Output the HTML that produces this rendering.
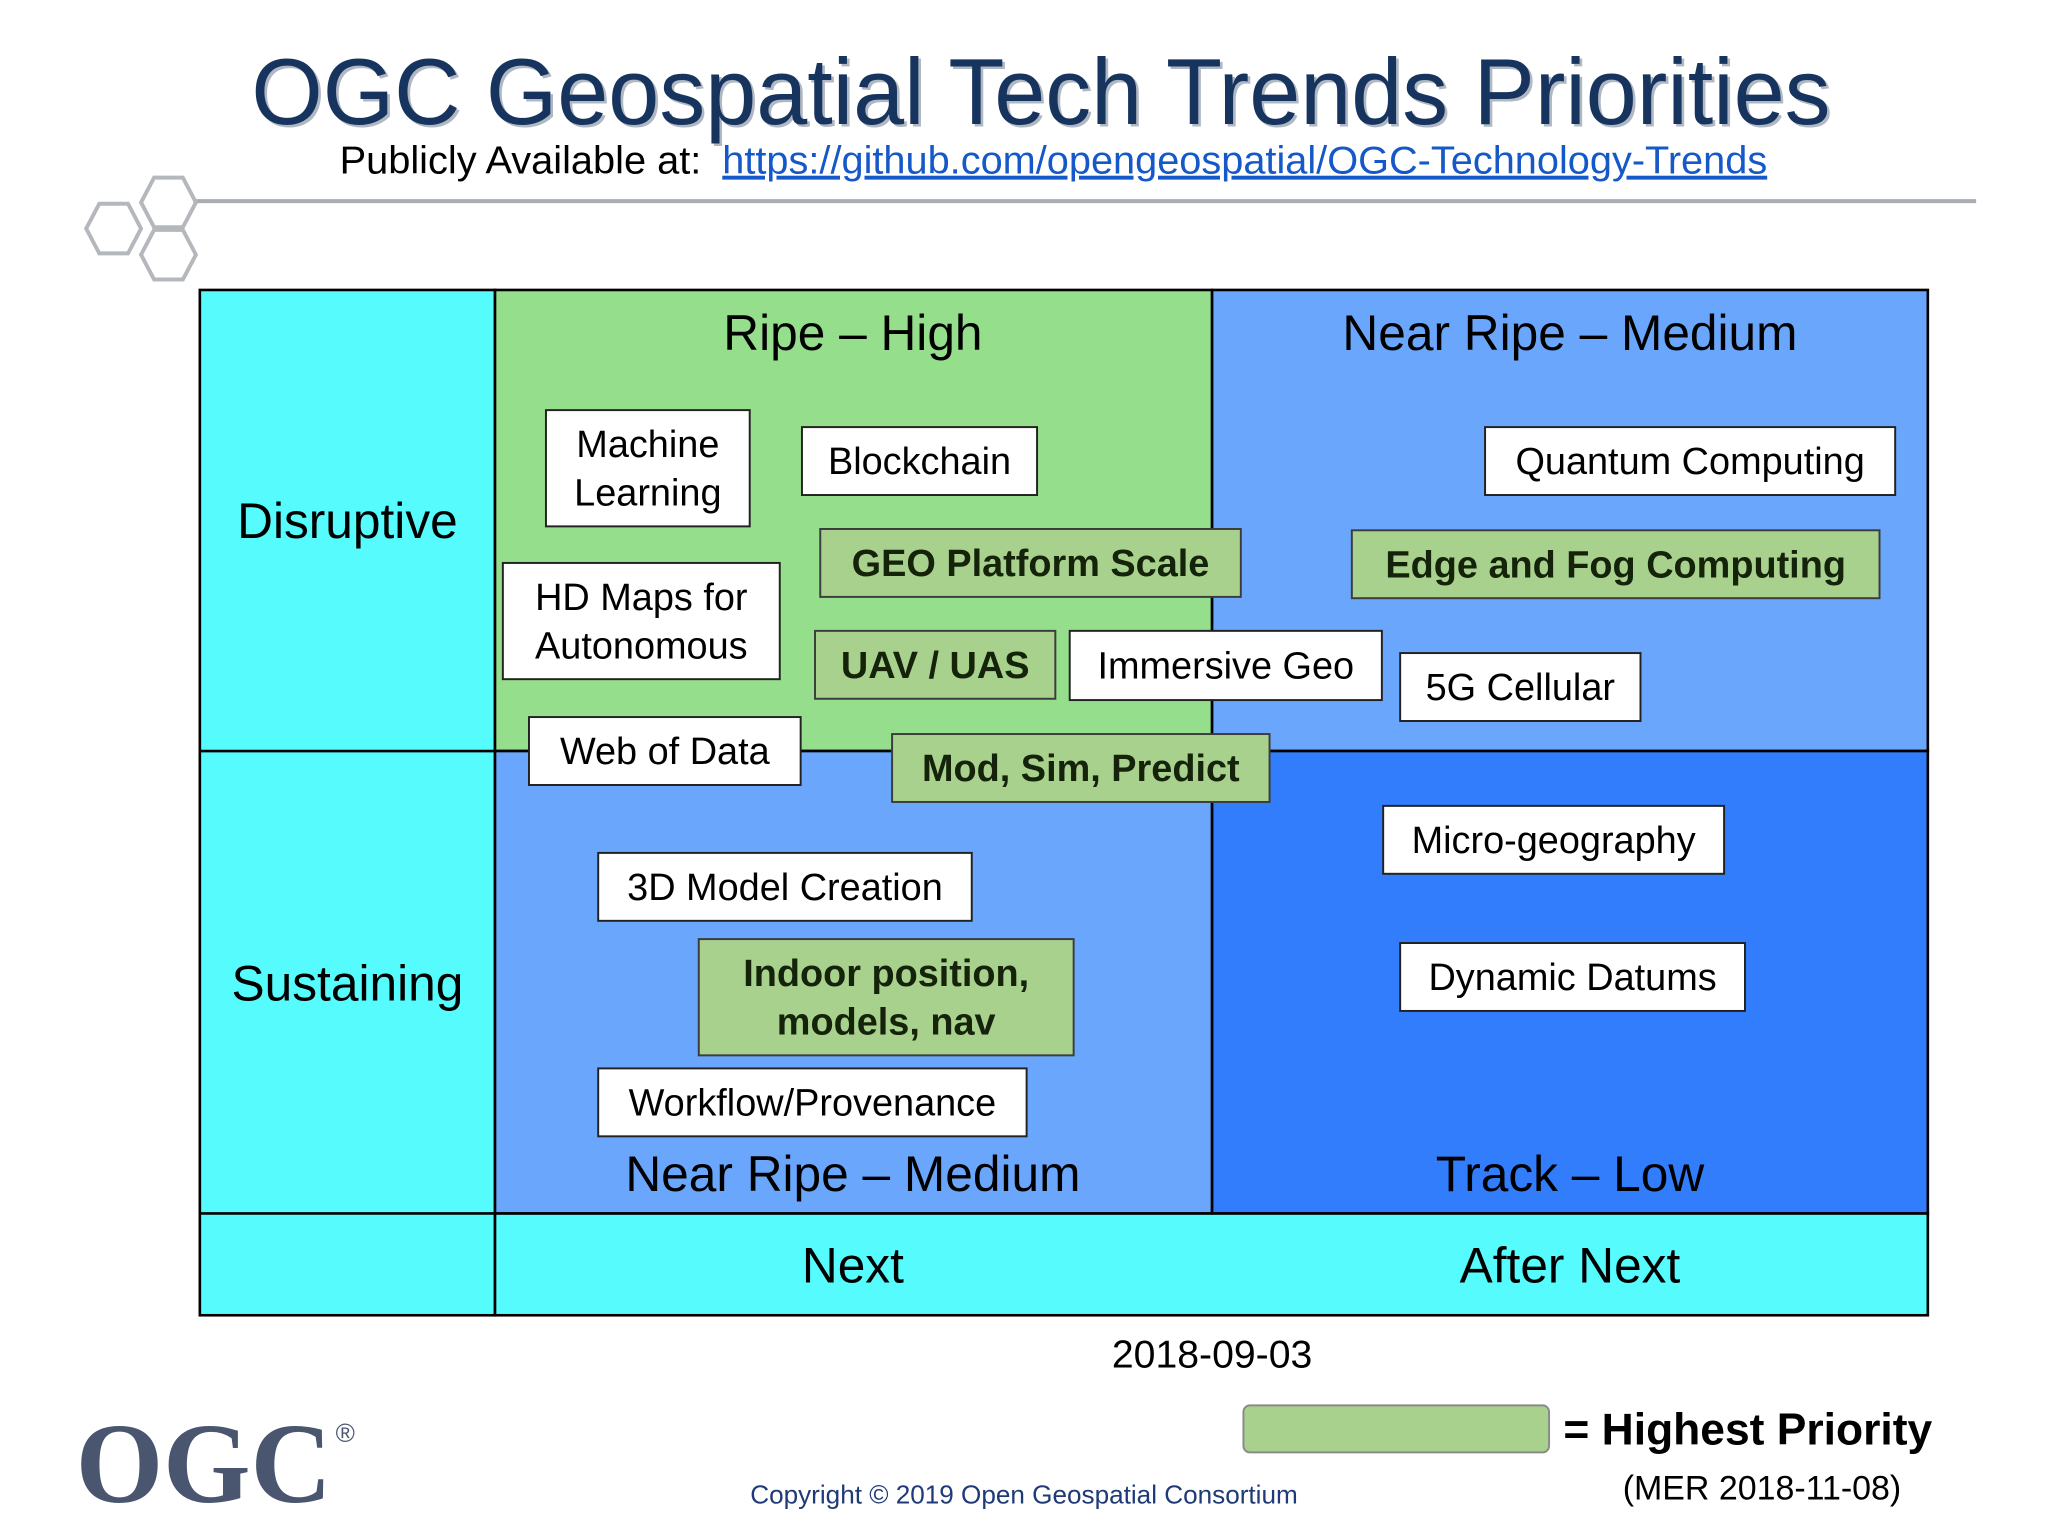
<!DOCTYPE html>
<html><head><meta charset="utf-8"><style>
html,body{margin:0;padding:0;background:#fff;}
svg{display:block;font-family:"Liberation Sans",sans-serif;}
</style></head><body>
<svg width="2048" height="1536" viewBox="0 0 1568 1176" xmlns="http://www.w3.org/2000/svg">
<rect width="1568" height="1176" fill="#fff"/>
<g>
<text x="799" y="97" text-anchor="middle" font-size="72" fill="#b0b8c4" textLength="1209" lengthAdjust="spacingAndGlyphs">OGC Geospatial Tech Trends Priorities</text>
<text x="797" y="95" text-anchor="middle" font-size="72" fill="#16345e" textLength="1209" lengthAdjust="spacingAndGlyphs">OGC Geospatial Tech Trends Priorities</text>
</g>
<text x="260" y="133" font-size="30" fill="#000" textLength="277" lengthAdjust="spacingAndGlyphs">Publicly Available at:</text>
<text x="553" y="133" font-size="30" fill="#1558c8" text-decoration="underline" textLength="800" lengthAdjust="spacingAndGlyphs">https://github.com/opengeospatial/OGC-Technology-Trends</text>
<line x1="148" y1="154" x2="1513" y2="154" stroke="#a8adb3" stroke-width="3"/>
<g fill="none" stroke="#b4b8bd" stroke-width="3">
<polygon points="108,155 118,136 140,136 150,155 140,174 118,174"/>
<polygon points="66,175 76,156 98,156 108,175 98,194 76,194"/>
<polygon points="108,195 118,176 140,176 150,195 140,214 118,214"/>
</g>
<g stroke="#000" stroke-width="2">
<rect x="153" y="222" width="226" height="785" fill="#56fbfd"/>
<rect x="379" y="929" width="1097" height="78" fill="#56fbfd"/>
<rect x="379" y="222" width="549" height="353" fill="#95df8c"/>
<rect x="928" y="222" width="548" height="353" fill="#6aa7fc"/>
<rect x="379" y="575" width="549" height="354" fill="#6aa7fc"/>
<rect x="928" y="575" width="548" height="354" fill="#317dfb"/>
<line x1="153" y1="575" x2="379" y2="575"/>
<line x1="153" y1="929" x2="379" y2="929"/>
</g>
<g font-size="38" fill="#000" text-anchor="middle">
<text x="653" y="268">Ripe – High</text>
<text x="1202" y="268">Near Ripe – Medium</text>
<text x="266" y="412">Disruptive</text>
<text x="266" y="766">Sustaining</text>
<text x="653" y="912">Near Ripe – Medium</text>
<text x="1202" y="912">Track – Low</text>
<text x="653" y="982">Next</text>
<text x="1202" y="982">After Next</text>
</g>
<g id="boxes" font-size="29"></g>
<text x="928" y="1047" text-anchor="middle" font-size="30">2018-09-03</text>
<rect x="952" y="1076" width="234" height="36" rx="5" fill="#a9d18e" stroke="#8a8a8a" stroke-width="1.5"/>
<text x="1197" y="1106" font-size="34" font-weight="bold">= Highest Priority</text>
<text x="1349" y="1148" text-anchor="middle" font-size="26">(MER 2018-11-08)</text>
<text x="58" y="1150" font-family="Liberation Serif, serif" font-weight="bold" font-size="88" fill="#4a5670" textLength="196" lengthAdjust="spacingAndGlyphs">OGC</text>
<text x="257" y="1104" font-size="20" fill="#4a5670">®</text>
<text x="784" y="1151" text-anchor="middle" font-size="20" fill="#1f3a78">Copyright © 2019 Open Geospatial Consortium</text>
</svg>
<script>
const boxNames = ["machine-learning","blockchain","geo-platform-scale","hd-maps","uav-uas","immersive-geo","web-of-data","mod-sim-predict","quantum-computing","edge-fog-computing","5g-cellular","micro-geography","3d-model-creation","indoor-position","dynamic-datums","workflow-provenance"];
const boxLabels = [["Machine","Learning"],["Blockchain"],["GEO Platform Scale"],["HD Maps for","Autonomous"],["UAV / UAS"],["Immersive Geo"],["Web of Data"],["Mod, Sim, Predict"],["Quantum Computing"],["Edge and Fog Computing"],["5G Cellular"],["Micro-geography"],["3D Model Creation"],["Indoor position,","models, nav"],["Dynamic Datums"],["Workflow/Provenance"]];
const boxPriority = [0,0,1,0,1,0,0,1,0,1,0,0,0,1,0,0];
const boxRects = [[418,314,574,403],[614,327,794,379],[628,405,950,457],[385,431,597,520],[624,483,808,535],[819,483,1058,536],[405,549,613,601],[683,562,972,614],[1137,327,1451,379],[1035,406,1439,458],[1072,500,1256,552],[1059,617,1320,669],[458,653,744,705],[535,719,822,808],[1072,722,1336,774],[458,818,786,870]];
const NS = "http://www.w3.org/2000/svg";
const g = document.getElementById("boxes");
boxNames.forEach((n,i)=>{
  const [x1,y1,x2,y2] = boxRects[i];
  const hi = boxPriority[i]===1;
  const grp = document.createElementNS(NS,"g");
  
  
  const r = document.createElementNS(NS,"rect");
  r.setAttribute("x",x1);r.setAttribute("y",y1);
  r.setAttribute("width",x2-x1);r.setAttribute("height",y2-y1);
  r.setAttribute("fill",hi?"#a9d18e":"#fff");
  r.setAttribute("stroke",hi?"#3c3c3c":"#222");r.setAttribute("stroke-width","1.5");
  grp.appendChild(r);
  const lines = boxLabels[i];
  const cx=(x1+x2)/2, cy=(y1+y2)/2;
  lines.forEach((t,j)=>{
    const tx=document.createElementNS(NS,"text");
    tx.setAttribute("x",cx);
    tx.setAttribute("y",cy+10+(j-(lines.length-1)/2)*37);
    tx.setAttribute("text-anchor","middle");
    if(hi){tx.setAttribute("font-weight","bold");tx.setAttribute("fill","#14230a");}
    tx.textContent=t;
    grp.appendChild(tx);
  });
  g.appendChild(grp);
});
</script>
</body></html>
